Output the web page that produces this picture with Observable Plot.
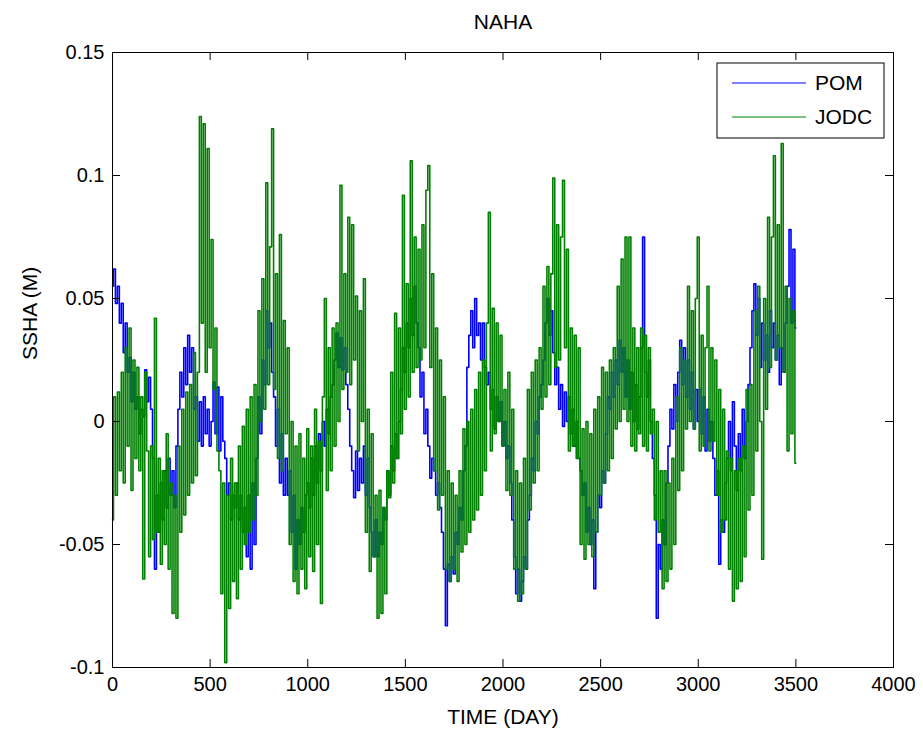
<!DOCTYPE html>
<html>
<head>
<meta charset="utf-8">
<script src="https://cdn.jsdelivr.net/npm/d3@7"></script>
<script src="https://cdn.jsdelivr.net/npm/@observablehq/plot@0.6"></script>
<style>
  html, body { margin: 0; padding: 0; background: #fff; }
  #chart svg { display: block; }
</style>
</head>
<body>
<div id="chart"></div>
<script>
const title = "NAHA";
const xLabel = "TIME (DAY)";
const yLabel = "SSHA (M)";
const seriesNames = ["POM", "JODC"];
const seriesColors = ["#0000ff", "#008000"];
const xTicks = [0, 500, 1000, 1500, 2000, 2500, 3000, 3500, 4000];
const yTicks = [-0.1, -0.05, 0, 0.05, 0.1, 0.15];
const dayStep = 10;

// POM (model) sea-surface height anomaly, metres
const pom = [
  0.055, 0.062, 0.048, 0.055, 0.040, 0.048, 0.028, 0.040, 0.020, 0.026,
  0.008, 0.020, 0.005, 0.010, -0.005, 0.005, 0.002, 0.021, 0.008, 0.018,
  0.005, -0.015, -0.060, -0.030, -0.045, -0.025, -0.040, -0.020, -0.035, -0.015,
  -0.030, -0.020, -0.035, -0.010, 0.005, 0.020, 0.010, 0.030, 0.015, 0.035,
  0.020, 0.030, 0.005, 0.010, -0.008, 0.008, -0.010, 0.010, -0.005, 0.005,
  -0.010, 0.000, 0.016, -0.005, 0.014, -0.012, 0.010, -0.008, -0.015, -0.030,
  -0.025, -0.040, -0.030, -0.035, -0.025, -0.040, -0.030, -0.045, -0.035, -0.055,
  -0.030, -0.060, -0.025, -0.050, -0.015, 0.010, -0.005, 0.025, 0.015, 0.045,
  0.030, 0.040, 0.020, 0.010, -0.010, 0.005, -0.025, -0.005, -0.030, -0.015,
  -0.030, -0.020, -0.045, -0.030, -0.060, -0.040, -0.050, -0.035, -0.045, -0.030,
  -0.025, -0.035, -0.015, -0.030, -0.010, -0.025, -0.005, -0.020, 0.000, -0.010,
  0.005, -0.005, 0.010, 0.015, 0.025, 0.036, 0.022, 0.034, 0.021, 0.030,
  0.015, 0.005, -0.010, -0.020, -0.031, -0.012, -0.028, -0.015, -0.025, -0.010,
  -0.030, -0.015, -0.035, -0.045, -0.055, -0.040, -0.055, -0.045, -0.050, -0.035,
  -0.040, -0.020, -0.030, -0.010, -0.020, -0.005, -0.015, 0.000, 0.013, 0.030,
  0.020, 0.040, 0.030, 0.050, 0.035, 0.055, 0.040, 0.030, 0.010, 0.020,
  -0.005, 0.005, -0.010, -0.023, -0.015, -0.020, -0.030, -0.025, -0.035, -0.045,
  -0.060, -0.083, -0.058, -0.065, -0.055, -0.062, -0.045, -0.050, -0.035, -0.040,
  -0.020, -0.010, 0.022, 0.035, 0.045, 0.030, 0.050, 0.035, 0.040, 0.025,
  0.040, 0.022, 0.015, 0.020, 0.005, 0.013, -0.003, 0.010, 0.000, 0.008,
  -0.010, 0.000, -0.015, -0.010, -0.025, -0.040, -0.055, -0.070, -0.060, -0.073,
  -0.065, -0.055, -0.060, -0.040, -0.030, -0.015, -0.020, 0.000, -0.005, 0.010,
  0.015, 0.025, 0.040, 0.050, 0.035, 0.045, 0.028, 0.015, 0.022, 0.005,
  0.015, -0.002, 0.012, 0.000, 0.010, -0.005, 0.005, -0.010, 0.000, -0.015,
  -0.020, -0.030, -0.025, -0.045, -0.035, -0.050, -0.040, -0.068, -0.045, -0.030,
  -0.035, -0.020, -0.025, -0.005, 0.010, 0.005, 0.020, 0.010, 0.025, 0.015,
  0.033, 0.020, 0.030, 0.010, 0.025, 0.005, 0.020, 0.000, 0.015, -0.003,
  0.010, 0.030, 0.075, 0.020, 0.010, 0.025, 0.000, -0.015, -0.030, -0.080,
  -0.050, -0.060, -0.040, -0.050, -0.025, -0.010, 0.005, -0.003, 0.015, 0.000,
  0.020, 0.033, 0.015, 0.030, 0.010, 0.025, 0.005, 0.020, -0.003, 0.013,
  0.000, 0.013, -0.005, 0.010, -0.012, 0.005, -0.008, 0.000, -0.015, -0.030,
  -0.020, -0.058, -0.040, -0.045, -0.025, -0.015, 0.000, -0.020, 0.008, -0.010,
  -0.028, -0.005, -0.020, 0.005, -0.015, 0.000, 0.015, 0.030, 0.045, 0.056,
  0.035, 0.050, 0.022, 0.040, 0.025, 0.035, 0.020, 0.045, 0.030, 0.040,
  0.025, 0.035, 0.015, 0.030, 0.020, 0.040, 0.055, 0.078, 0.040, 0.070,
  0.038
];

// JODC (tide gauge) sea-surface height anomaly, metres
const jodc = [
  -0.040, 0.010, -0.030, 0.012, -0.020, 0.020, -0.025, 0.030, -0.010, 0.038,
  -0.028, 0.025, -0.015, 0.022, -0.020, 0.010, -0.064, 0.020, -0.012, -0.055,
  -0.010, -0.048, 0.042, -0.045, -0.015, -0.058, -0.020, -0.050, -0.005, -0.060,
  -0.025, -0.078, -0.030, -0.080, -0.010, -0.045, 0.005, -0.038, 0.012, -0.030,
  0.015, -0.025, 0.028, -0.022, 0.020, 0.124, 0.040, 0.121, 0.020, 0.111,
  0.030, 0.074, 0.013, 0.038, -0.012, -0.020, -0.070, -0.025, -0.098, -0.030,
  -0.076, -0.015, -0.065, -0.025, -0.072, -0.010, -0.060, -0.002, -0.050, 0.005,
  -0.045, 0.010, -0.040, 0.015, -0.030, 0.045, 0.000, 0.058, 0.005, 0.097,
  0.015, 0.071, 0.119, 0.013, 0.060, -0.015, 0.076, -0.020, 0.041, -0.005,
  0.030, -0.050, 0.000, -0.065, -0.010, -0.070, -0.005, -0.060, -0.015, -0.068,
  -0.003, -0.055, -0.010, -0.061, 0.005, -0.050, -0.008, -0.074, 0.010, 0.050,
  -0.028, 0.030, -0.020, 0.038, -0.010, 0.040, 0.000, 0.096, 0.013, 0.060,
  0.020, 0.083, 0.015, 0.080, 0.025, 0.051, -0.012, 0.045, 0.000, 0.058,
  -0.045, 0.005, -0.061, -0.005, -0.055, -0.030, -0.080, -0.028, -0.078, -0.035,
  -0.070, -0.020, -0.031, 0.020, -0.025, 0.044, -0.015, 0.038, -0.005, 0.092,
  0.005, 0.056, 0.010, 0.106, 0.020, 0.075, 0.022, 0.070, 0.025, 0.080,
  0.030, 0.094, 0.104, 0.022, 0.060, -0.020, 0.038, -0.036, 0.025, -0.030,
  0.010, -0.060, -0.020, -0.065, -0.025, -0.060, -0.030, -0.065, -0.020, -0.053,
  -0.003, -0.050, 0.000, -0.045, 0.005, -0.040, 0.013, -0.036, 0.020, -0.030,
  0.025, -0.020, 0.040, 0.085, -0.012, 0.046, -0.005, 0.040, 0.000, 0.035,
  -0.010, 0.013, -0.028, 0.020, -0.030, 0.005, -0.060, -0.020, -0.073, -0.025,
  -0.070, -0.015, -0.060, 0.013, -0.036, 0.020, -0.025, 0.025, -0.020, 0.030,
  0.005, 0.055, 0.010, 0.063, 0.015, 0.060, 0.099, 0.022, 0.080, 0.025,
  0.075, 0.098, 0.030, 0.070, -0.012, 0.038, -0.010, 0.035, -0.015, 0.030,
  -0.050, -0.003, -0.056, 0.000, -0.050, -0.005, -0.055, 0.005, -0.045, 0.010,
  -0.030, 0.022, -0.025, 0.020, -0.020, 0.025, -0.015, 0.030, -0.003, 0.055,
  0.000, 0.066, 0.005, 0.075, 0.000, 0.075, -0.010, 0.038, -0.012, 0.030,
  -0.005, 0.038, -0.010, 0.035, -0.012, 0.030, -0.005, 0.005, -0.040, 0.000,
  -0.045, -0.020, -0.068, -0.020, -0.065, -0.025, -0.060, -0.015, -0.050, 0.010,
  -0.028, 0.030, -0.020, 0.025, -0.003, 0.055, 0.000, 0.045, -0.003, 0.050,
  0.075, -0.012, 0.035, -0.010, 0.030, 0.055, -0.012, 0.030, -0.008, 0.025,
  -0.030, 0.013, -0.045, 0.005, -0.040, -0.012, -0.060, -0.015, -0.073, -0.020,
  -0.068, -0.015, -0.065, -0.010, -0.055, 0.013, -0.036, 0.015, -0.030, 0.045,
  -0.012, 0.055, 0.000, -0.056, 0.050, 0.005, 0.083, 0.022, 0.075, 0.108,
  0.025, 0.080, 0.030, 0.113, 0.020, 0.055, -0.012, 0.050, -0.005, 0.045,
  -0.017
];

// ---- Layout ----
const W = 923, H = 735;
const mL = 112, mR = 30, mT = 52, mB = 68;
const frameW = W - mL - mR, frameH = H - mT - mB;
const tickLen = 8;
const fontFamily = "'Liberation Sans', Arial, Helvetica, sans-serif";

const toRows = (vals, name) => vals.map((v, i) => ({day: i * dayStep, v, series: name}));
const pomRows = toRows(pom, seriesNames[0]);
const jodcRows = toRows(jodc, seriesNames[1]);
const fmt = d => String(d);

const chart = Plot.plot({
  width: W,
  height: H,
  marginLeft: mL,
  marginRight: mR,
  marginTop: mT,
  marginBottom: mB,
  style: {fontFamily, fontSize: "20px", background: "#fff", color: "#000"},
  x: {domain: [0, 4000]},
  y: {domain: [-0.1, 0.15]},
  marks: [
    Plot.line(pomRows, {x: "day", y: "v", stroke: seriesColors[0], strokeWidth: 1.6, curve: "step"}),
    Plot.line(jodcRows, {x: "day", y: "v", stroke: seriesColors[1], strokeWidth: 1.6, curve: "step"}),
    // inward ticks on all four sides (MATLAB style)
    Plot.tickX(xTicks, {x: d => d, insetTop: frameH - tickLen, stroke: "#000"}),
    Plot.tickX(xTicks, {x: d => d, insetBottom: frameH - tickLen, stroke: "#000"}),
    Plot.tickY(yTicks, {y: d => d, insetRight: frameW - tickLen, stroke: "#000"}),
    Plot.tickY(yTicks, {y: d => d, insetLeft: frameW - tickLen, stroke: "#000"}),
    Plot.frame({stroke: "#000", strokeWidth: 1}),
    Plot.axisX({ticks: xTicks, tickSize: 0, tickPadding: 9, tickFormat: fmt, label: null, fontSize: 20}),
    Plot.axisY({ticks: yTicks, tickSize: 0, tickPadding: 8, tickFormat: fmt, label: null, fontSize: 20}),
    Plot.text([title], {text: d => d, frameAnchor: "top", lineAnchor: "middle", dy: -30, fontSize: 21}),
    Plot.text([xLabel], {text: d => d, frameAnchor: "bottom", lineAnchor: "middle", dy: 50, fontSize: 21}),
    Plot.text([yLabel], {text: d => d, frameAnchor: "left", lineAnchor: "middle", dx: -82, rotate: -90, fontSize: 21})
  ]
});

document.getElementById("chart").appendChild(chart);

// ---- Legend (boxed, top-right inside the axes) ----
const svg = d3.select(chart);
const lgW = 167, lgH = 75;
const lgX = W - mR - 9 - lgW, lgY = mT + 11;
const lg = svg.append("g").attr("font-family", fontFamily).attr("font-size", 21).attr("text-anchor", "start");
lg.append("rect")
  .attr("x", lgX).attr("y", lgY).attr("width", lgW).attr("height", lgH)
  .attr("fill", "#fff").attr("stroke", "#000").attr("stroke-width", 1);
seriesNames.forEach((name, i) => {
  const cy = lgY + 20 + i * 34;
  lg.append("line")
    .attr("x1", lgX + 15).attr("x2", lgX + 89)
    .attr("y1", cy).attr("y2", cy)
    .attr("stroke", seriesColors[i]).attr("stroke-width", 1.2);
  lg.append("text")
    .attr("x", lgX + 98).attr("y", cy).attr("dy", "0.35em")
    .attr("text-anchor", "start")
    .attr("fill", "#000")
    .text(name);
});
</script>
</body>
</html>
